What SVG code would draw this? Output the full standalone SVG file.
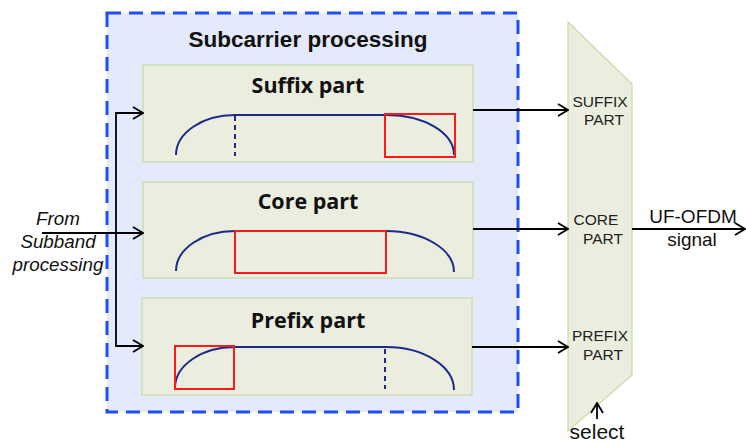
<svg xmlns="http://www.w3.org/2000/svg" width="746" height="444" viewBox="0 0 746 444">
<defs>
<style>
.outer{fill:#e4e9fb;stroke:#1f4ef5;stroke-width:3;stroke-dasharray:14 8}
.box{fill:#ebeede;stroke:#c6dba8;stroke-width:1.2}
.mux{fill:#ebeede;stroke:#c6dba8;stroke-width:1.2}
.curve{fill:none;stroke:#1c2a8c;stroke-width:2}
.dash{fill:none;stroke:#1c2a8c;stroke-width:2;stroke-dasharray:5 4}
.red{fill:none;stroke:#ff1a1a;stroke-width:2}
.conn{fill:none;stroke:#000;stroke-width:1.8}
.title{font-family:"Liberation Sans",Arial,sans-serif;font-weight:bold;font-size:22.5px;fill:#111;text-anchor:middle}
.btitle{font-family:"Open Sans","Noto Sans",sans-serif;font-weight:bold;font-size:21.5px;fill:#111;text-anchor:middle}
.lbl{font-family:"Liberation Sans",Arial,sans-serif;font-size:15.5px;fill:#222;text-anchor:middle}
.it{font-family:"Liberation Sans",Arial,sans-serif;font-style:italic;font-size:18.8px;fill:#111;text-anchor:middle}
.out{font-family:"Liberation Sans",Arial,sans-serif;font-size:19px;fill:#111;text-anchor:middle}
.sel{font-family:"Liberation Sans",Arial,sans-serif;font-size:21px;fill:#111;text-anchor:middle}
</style>
<marker id="arr" viewBox="0 0 12 14" refX="11" refY="7" markerWidth="12" markerHeight="14" markerUnits="userSpaceOnUse" orient="auto">
<path d="M1,1 L11,7 L1,13" fill="none" stroke="#000" stroke-width="1.8"/>
</marker>
</defs>

<g id="subcarrier-processing">
<rect class="outer" x="107" y="13" width="411" height="399"/>
<text class="title" x="308" y="47">Subcarrier processing</text>
</g>

<g id="suffix-part">
<rect class="box" x="143" y="65" width="330" height="97"/>
<text class="btitle" x="308" y="93">Suffix part</text>
<path class="curve" d="M176,155 A59,40 0 0 1 235,115 L387,115 A67,40 0 0 1 454,155"/>
<line class="dash" x1="235" y1="116" x2="235" y2="156"/>
<rect class="red" x="385" y="114" width="70" height="43"/>
</g>

<g id="core-part">
<rect class="box" x="143" y="182" width="330" height="96"/>
<text class="btitle" x="308" y="209">Core part</text>
<path class="curve" d="M176,271 A59,40 0 0 1 235,231 L386,231 A68,41 0 0 1 454,272"/>
<rect class="red" x="235" y="231" width="151" height="42"/>
</g>

<g id="prefix-part">
<rect class="box" x="142" y="298" width="330" height="97"/>
<text class="btitle" x="308" y="328">Prefix part</text>
<path class="curve" d="M175,388 A60,41 0 0 1 235,347 L386,347 A68,43 0 0 1 454,390"/>
<line class="dash" x1="385" y1="349" x2="385" y2="389"/>
<rect class="red" x="175" y="346" width="59" height="43"/>
</g>

<g id="mux">
<polygon class="mux" points="568,22 632,84 632,375 568,431"/>
<text class="lbl" x="600" y="107">SUFFIX</text>
<text class="lbl" x="604" y="125">PART</text>
<text class="lbl" x="596" y="225">CORE</text>
<text class="lbl" x="603" y="244">PART</text>
<text class="lbl" x="600" y="341">PREFIX</text>
<text class="lbl" x="603" y="360">PART</text>
</g>

<g id="input-label">
<text class="it" x="58" y="225">From</text>
<text class="it" x="58" y="248">Subband</text>
<text class="it" x="58" y="271">processing</text>
</g>

<g id="output-label">
<text class="out" x="693" y="223">UF-OFDM</text>
<text class="out" x="692" y="246">signal</text>
<text class="sel" x="597" y="439">select</text>
</g>

<g id="connectors">
<line class="conn" x1="42" y1="233" x2="143" y2="233" marker-end="url(#arr)"/>
<polyline class="conn" points="143,113 116,113 116,346 143,346" marker-end="url(#arr)"/>
<line class="conn" x1="116" y1="113" x2="143" y2="113" marker-end="url(#arr)"/>
<line class="conn" x1="473" y1="110" x2="568" y2="110" marker-end="url(#arr)"/>
<line class="conn" x1="473" y1="229" x2="568" y2="229" marker-end="url(#arr)"/>
<line class="conn" x1="472" y1="347" x2="568" y2="347" marker-end="url(#arr)"/>
<line class="conn" x1="632" y1="229" x2="745" y2="229" marker-end="url(#arr)"/>
<line class="conn" x1="597" y1="419" x2="597" y2="403" marker-end="url(#arr)"/>
</g>
</svg>
